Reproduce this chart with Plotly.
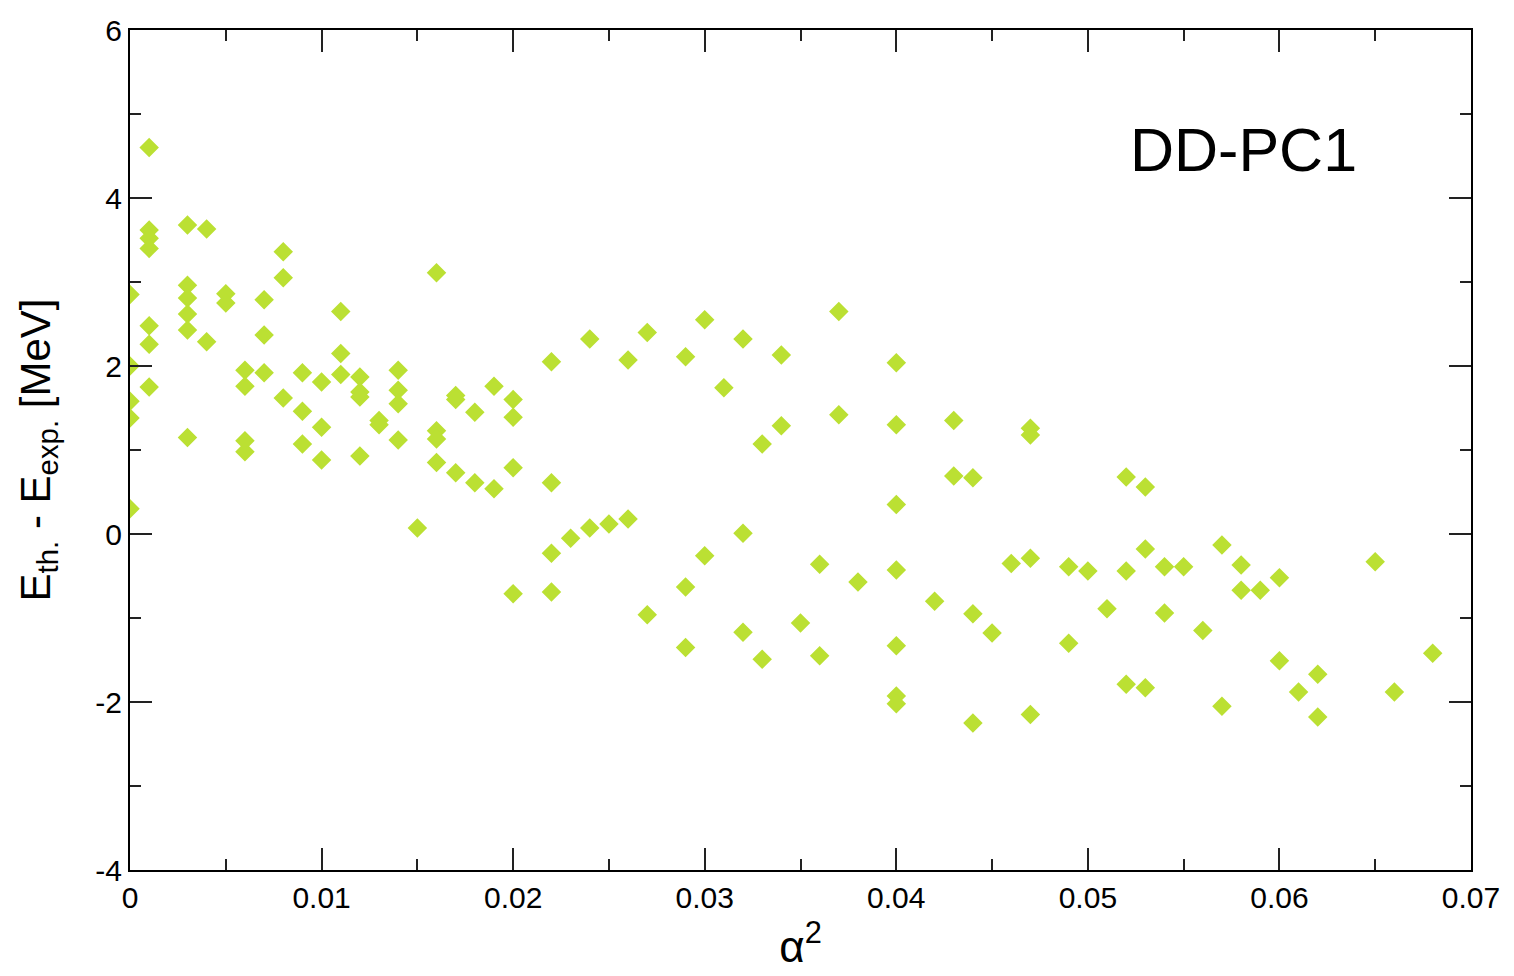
import plotly.graph_objects as go

# alpha^2 values and E_th - E_exp [MeV]
alpha2 = [
    0, 0, 0, 0, 0,
    0.001, 0.001, 0.001, 0.001, 0.001, 0.001, 0.001,
    0.003, 0.003, 0.003, 0.003, 0.003, 0.003,
    0.004, 0.004,
    0.005, 0.005,
    0.006, 0.006, 0.006, 0.006,
    0.007, 0.007, 0.007,
    0.008, 0.008, 0.008,
    0.009, 0.009, 0.009,
    0.010, 0.010, 0.010,
    0.011, 0.011, 0.011,
    0.012, 0.012, 0.012, 0.012,
    0.013, 0.013,
    0.014, 0.014, 0.014, 0.014,
    0.015,
    0.016, 0.016, 0.016, 0.016,
    0.017, 0.017, 0.017,
    0.018, 0.018,
    0.019, 0.019,
    0.020, 0.020, 0.020, 0.020,
    0.022, 0.022, 0.022, 0.022,
    0.023,
    0.024, 0.024,
    0.025,
    0.026, 0.026,
    0.027, 0.027,
    0.029, 0.029, 0.029,
    0.030, 0.030,
    0.031,
    0.032, 0.032, 0.032,
    0.033, 0.033,
    0.034, 0.034,
    0.035,
    0.036, 0.036,
    0.037, 0.037,
    0.038,
    0.040, 0.040, 0.040, 0.040, 0.040, 0.040, 0.040,
    0.042,
    0.043, 0.043,
    0.044, 0.044, 0.044,
    0.045,
    0.046,
    0.047, 0.047, 0.047, 0.047,
    0.049, 0.049,
    0.050,
    0.051,
    0.052, 0.052, 0.052,
    0.053, 0.053, 0.053,
    0.054, 0.054,
    0.055,
    0.056,
    0.057, 0.057,
    0.058, 0.058,
    0.059,
    0.060, 0.060,
    0.061,
    0.062, 0.062,
    0.065,
    0.066,
    0.068,
]
delta_e = [
    2.85, 2.00, 1.58, 1.38, 0.30,
    4.60, 3.62, 3.52, 3.40, 2.48, 2.26, 1.75,
    3.68, 2.96, 2.81, 2.62, 2.43, 1.15,
    3.63, 2.29,
    2.86, 2.75,
    1.95, 1.76, 1.11, 0.98,
    2.79, 2.37, 1.92,
    3.36, 3.05, 1.62,
    1.92, 1.46, 1.07,
    1.81, 1.27, 0.88,
    2.65, 2.15, 1.90,
    1.87, 1.69, 1.63, 0.93,
    1.35, 1.30,
    1.95, 1.71, 1.55, 1.12,
    0.07,
    3.11, 1.23, 1.13, 0.85,
    1.65, 1.60, 0.73,
    1.45, 0.61,
    1.76, 0.54,
    1.60, 1.39, 0.79, -0.71,
    2.05, 0.61, -0.23, -0.69,
    -0.05,
    2.32, 0.07,
    0.12,
    2.07, 0.18,
    2.40, -0.96,
    2.11, -0.63, -1.35,
    2.55, -0.26,
    1.74,
    2.32, 0.01, -1.17,
    1.07, -1.49,
    2.13, 1.29,
    -1.06,
    -0.36, -1.45,
    2.65, 1.42,
    -0.57,
    2.04, 1.30, 0.35, -0.43, -1.33, -1.93, -2.02,
    -0.80,
    1.35, 0.69,
    0.67, -0.95, -2.25,
    -1.18,
    -0.35,
    1.26, 1.18, -0.29, -2.15,
    -0.39, -1.30,
    -0.44,
    -0.89,
    0.68, -0.44, -1.79,
    0.56, -0.18, -1.83,
    -0.39, -0.94,
    -0.39,
    -1.15,
    -0.13, -2.05,
    -0.37, -0.67,
    -0.67,
    -0.52, -1.51,
    -1.88,
    -1.67, -2.18,
    -0.33,
    -1.88,
    -1.42,
]

x_tickvals = [0, 0.01, 0.02, 0.03, 0.04, 0.05, 0.06, 0.07]
x_ticktext = ["0", "0.01", "0.02", "0.03", "0.04", "0.05", "0.06", "0.07"]
y_tickvals = [-4, -2, 0, 2, 4, 6]
y_ticktext = ["-4", "-2", "0", "2", "4", "6"]

FONT = "Liberation Sans, Arial, Helvetica, sans-serif"

fig = go.Figure()
fig.add_trace(go.Scatter(
    x=alpha2, y=delta_e, mode="markers",
    marker=dict(symbol="diamond", size=15, color="#bbe033", line=dict(width=0)),
    showlegend=False,
))

axis_common = dict(
    showline=True, linecolor="black", linewidth=2, mirror="allticks",
    ticks="inside", ticklen=22, tickwidth=1.5, tickcolor="#222222",
    showgrid=False, zeroline=False,
    tickfont=dict(family=FONT, size=30, color="black"),
)

fig.update_xaxes(
    range=[0, 0.07], tickvals=x_tickvals, ticktext=x_ticktext,
    minor=dict(dtick=0.005, tick0=0, ticks="inside", ticklen=11, tickwidth=1.5, tickcolor="#222222"),
    title=dict(text="α<sup>2</sup>", font=dict(family=FONT, size=44, color="black"), standoff=18),
    **axis_common,
)
fig.update_yaxes(
    range=[-4, 6], tickvals=y_tickvals, ticktext=y_ticktext,
    minor=dict(dtick=1, tick0=0, ticks="inside", ticklen=11, tickwidth=1.5, tickcolor="#222222"),
    title=dict(text="E<sub>th.</sub> - E<sub>exp.</sub> [MeV]",
               font=dict(family=FONT, size=42, color="black"), standoff=32),
    **axis_common,
)

fig.add_annotation(
    text="DD-PC1", x=0.0581, y=4.57, xref="x", yref="y",
    showarrow=False, font=dict(family=FONT, size=61, color="black"),
)

fig.update_layout(
    width=1514, height=976,
    margin=dict(l=130, r=43, t=30, b=106),
    paper_bgcolor="white", plot_bgcolor="white",
)

fig.write_html("out.html")
